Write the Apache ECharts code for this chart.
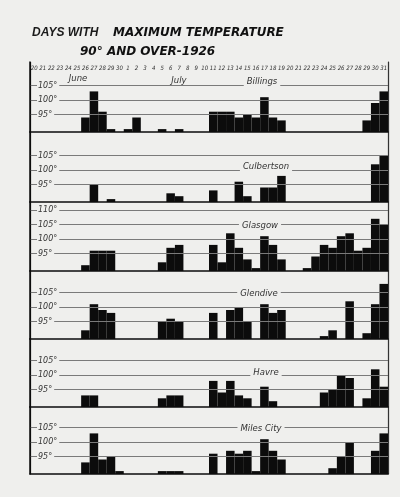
<!DOCTYPE html>
<html>
<head>
<meta charset="utf-8">
<script src="https://cdn.jsdelivr.net/npm/echarts@6/dist/echarts.min.js"></script>
<style>
html,body{margin:0;padding:0;background:#efefed;}
#c{width:400px;height:497px;}
</style>
</head>
<body>
<div id="c"></div>
<script>
// Day labels: June 20-30, July 1-20 | July 21-31
const days = ['20','21','22','23','24','25','26','27','28','29','30',
  '1','2','3','4','5','6','7','8','9','10','11','12','13','14','15','16','17','18','19','20',
  '21','22','23','24','25','26','27','28','29','30','31'];

const stations = ['Billings','Culbertson','Glasgow','Glendive','Havre','Miles City'];

// Maximum temperature (°F) on days of 90° and over; null = below 90°
const billings = [null,null,null,null,null,null,94,103,96,90,null,
  90,94,null,null,90,null,90,null,null,null,96,96,96,94,95,94,101,94,93,null,
  null,null,null,null,null,null,null,null,93,99,103];
const culbertson = [null,null,null,null,null,null,null,95,null,90,null,
  null,null,null,null,null,92,91,null,null,null,93,null,null,96,91,null,94,94,98,null,
  null,null,null,null,null,null,null,null,null,102,105];
const glasgow = [null,null,null,null,null,null,91,96,96,96,null,
  null,null,null,null,92,97,98,null,null,null,98,92,102,97,93,90,101,98,93,null,
  null,90,94,98,97,101,102,96,97,107,105];
const glendive = [null,null,null,null,null,null,92,101,99,98,null,
  null,null,null,null,95,96,95,null,null,null,98,null,99,100,95,null,101,98,99,null,
  null,null,null,90,92,null,102,null,91,101,108];
const havre = [null,null,null,null,null,null,93,93,null,null,null,
  null,null,null,null,92,93,93,null,null,null,98,94,98,93,92,null,96,91,null,null,
  null,null,null,94,95,100,99,null,92,102,96];
const milesCity = [null,null,null,null,null,null,93,103,94,95,90,
  null,null,null,null,90,90,90,null,null,null,96,null,97,96,97,90,101,97,94,null,
  null,null,null,null,91,95,100,null,null,97,103];

const seriesData = [billings, culbertson, glasgow, glendive, havre, milesCity];

// Reference-line temperatures drawn in each panel
const refLines = [[95,100,105],[95,100,105],[95,100,105,110],[95,100,105],[95,100,105],[95,100,105]];
const baseTemp = 89;

// Layout (pixels)
const panelTop = [62,132,202,271,339,407];
const panelBottom = [132,202,271,339,407,474];
const pxPerDeg = 2.9;
const labelPos = [[262,82],[266,167],[260,226],[259,294],[266,373],[261,429]];

const paper = '#efefed';
const ink = '#0c0c0c';

const grids = [], xAxes = [], yAxes = [], series = [], graphics = [];

stations.forEach((name, i) => {
  const h = panelBottom[i] - panelTop[i];
  grids.push({left:30, right:12, top:panelTop[i], height:h});
  xAxes.push({
    gridIndex:i, type:'category', data:days, position:'bottom',
    axisLine:{show:true, onZero:false, lineStyle:{color:ink, width:1.5}},
    axisTick:{show:false}, axisLabel:{show:false},
    splitLine:{show:true, interval:(idx)=> idx===31, lineStyle:{color:ink, width:1.2}}
  });
  const lines = refLines[i];
  yAxes.push({
    gridIndex:i, type:'value', min:baseTemp, max:baseTemp + h/pxPerDeg, interval:1,
    z:5,
    axisLine:{show:true, lineStyle:{color:ink, width:1.5}},
    axisTick:{show:false}, splitLine:{show:false},
    axisLabel:{
      inside:true, margin:7,
      formatter:(v)=> lines.indexOf(v) >= 0 ? '{a|' + v + '°}' : '',
      rich:{a:{fontSize:8, fontStyle:'italic', fontFamily:'DejaVu Sans', color:'#333',
        backgroundColor:paper, padding:[0,2,0,1]}}
    }
  });
  yAxes.push({
    gridIndex:i, type:'value', position:'right', min:baseTemp, max:baseTemp + h/pxPerDeg,
    axisLine:{show:true, lineStyle:{color:'#333', width:1}},
    axisTick:{show:false}, splitLine:{show:false}, axisLabel:{show:false}
  });
  series.push({
    type:'bar', name:name, xAxisIndex:i, yAxisIndex:2*i, data:seriesData[i],
    barCategoryGap:'0%', barGap:'0%',
    itemStyle:{color:ink}, animation:false, silent:true,
    markLine:{
      silent:true, symbol:['none','none'], animation:false,
      label:{show:false},
      lineStyle:{color:'#7a7a7a', width:1, type:'solid'},
      data: lines.map(v => ({yAxis:v}))
    }
  });
  graphics.push({
    type:'text', x:labelPos[i][0], y:labelPos[i][1], z:100,
    style:{text:name, fill:'#333', font:'italic 8.5px "DejaVu Sans"',
      align:'center', verticalAlign:'middle', backgroundColor:paper, padding:[0,3]}
  });
});

// top day-label axis
xAxes.push({
  gridIndex:0, type:'category', data:days, position:'top',
  axisLine:{show:false}, axisTick:{show:false}, splitLine:{show:false},
  axisLabel:{inside:true, interval:0, margin:3, fontSize:6, fontStyle:'italic',
    fontFamily:'DejaVu Sans Condensed', color:'#333'}
});

graphics.push(
  {type:'text', x:32, y:33, z:100, style:{text:'DAYS WITH', fill:'#1a1a1a',
    font:'italic bold 12px "Liberation Sans"', verticalAlign:'middle'}},
  {type:'text', x:113, y:33, z:100, style:{text:'MAXIMUM TEMPERATURE', fill:'#111',
    font:'italic 900 12px "DejaVu Sans"', verticalAlign:'middle'}},
  {type:'text', x:80, y:52, z:100, style:{text:'90° AND OVER-1926', fill:'#111',
    font:'italic 900 12px "DejaVu Sans"', verticalAlign:'middle'}},
  {type:'text', x:78, y:79, z:100, style:{text:'June', fill:'#333',
    font:'italic 8.5px "DejaVu Sans"', align:'center', verticalAlign:'middle'}},
  {type:'text', x:179, y:81, z:100, style:{text:'July', fill:'#333',
    font:'italic 8.5px "DejaVu Sans"', align:'center', verticalAlign:'middle'}}
);

const chart = echarts.init(document.getElementById('c'), null, {renderer:'canvas'});
chart.setOption({
  backgroundColor:paper,
  animation:false,
  grid:grids, xAxis:xAxes, yAxis:yAxes, series:series, graphic:graphics
});
</script>
</body>
</html>
